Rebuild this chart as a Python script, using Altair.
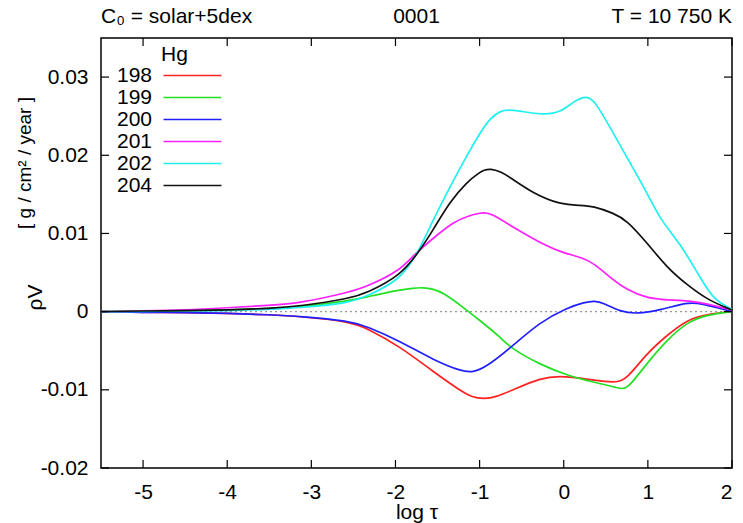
import altair as alt
import pandas as pd

# ---- data ----
isotopes = ["198", "199", "200", "201", "202", "204"]
colors = ["#ff2020", "#22e022", "#2020ff", "#ff20ff", "#20f0f0", "#111111"]

x198 = [-5.5, -5.0, -4.5, -4.0, -3.5, -3.13, -2.54, -2.34, -1.94, -1.55, -1.23, -1.1, -0.95, -0.8, -0.6, -0.28, -0.04, 0.2, 0.52, 0.64, 0.75, 0.99, 1.23, 1.47, 1.71, 2.0]
y198 = [0.0, -0.0001, -0.0001, -0.0002, -0.0004, -0.0006, -0.0013, -0.0021, -0.0045, -0.0077, -0.0101, -0.0109, -0.0112, -0.0109, -0.0100, -0.0085, -0.0082, -0.0085, -0.0090, -0.0090, -0.0086, -0.0053, -0.0030, -0.0010, -0.0003, 0.0]

x199 = [-5.5, -5.0, -4.5, -4.0, -3.5, -3.13, -2.54, -2.34, -1.94, -1.8, -1.67, -1.55, -1.43, -1.2, -1.0, -0.76, -0.64, -0.28, 0.08, 0.35, 0.55, 0.62, 0.7, 0.77, 0.99, 1.23, 1.47, 1.71, 2.0]
y199 = [0.0, 0.0001, 0.0001, 0.0002, 0.0004, 0.0006, 0.0014, 0.0019, 0.0028, 0.0030, 0.0031, 0.0029, 0.0024, 0.0006, -0.0011, -0.0032, -0.0046, -0.0068, -0.0083, -0.0090, -0.0095, -0.0097, -0.0099, -0.0097, -0.0066, -0.0036, -0.0013, -0.0004, 0.0]

x200 = [-5.5, -5.0, -4.5, -4.0, -3.5, -3.13, -2.54, -2.34, -1.94, -1.55, -1.2, -1.08, -0.95, -0.64, -0.28, 0.04, 0.25, 0.37, 0.47, 0.67, 0.87, 1.15, 1.47, 1.62, 2.0]
y200 = [0.0, -0.0001, -0.0001, -0.0002, -0.0004, -0.0006, -0.0012, -0.0019, -0.0038, -0.0062, -0.0077, -0.0077, -0.0073, -0.0047, -0.0013, 0.0005, 0.0012, 0.0014, 0.0011, 0.0000, -0.0003, 0.0002, 0.0012, 0.0011, 0.0]

x201 = [-5.5, -5.0, -4.5, -4.0, -3.5, -3.13, -2.54, -2.34, -1.94, -1.79, -1.55, -1.31, -1.1, -0.95, -0.87, -0.6, -0.28, -0.01, 0.23, 0.37, 0.59, 0.75, 0.99, 1.23, 1.5, 1.71, 2.0]
y201 = [0.0, 0.0001, 0.0002, 0.0005, 0.0008, 0.0011, 0.0025, 0.0032, 0.0053, 0.0072, 0.0094, 0.0115, 0.0124, 0.0127, 0.0126, 0.0108, 0.0088, 0.0075, 0.0069, 0.0061, 0.0040, 0.0028, 0.0017, 0.0015, 0.0014, 0.0010, 0.0002]

x202 = [-5.5, -5.0, -4.5, -4.0, -3.5, -3.13, -2.54, -2.34, -1.94, -1.71, -1.55, -1.35, -1.15, -1.0, -0.87, -0.75, -0.64, -0.24, -0.04, 0.11, 0.2, 0.28, 0.37, 0.59, 0.79, 0.99, 1.15, 1.38, 1.62, 1.78, 2.0]
y202 = [0.0, 0.0, 0.0001, 0.0001, 0.0003, 0.0005, 0.0011, 0.0020, 0.0040, 0.0080, 0.0118, 0.0160, 0.0200, 0.0228, 0.0248, 0.0257, 0.0259, 0.0251, 0.0255, 0.0268, 0.0273, 0.0275, 0.0270, 0.0228, 0.0190, 0.0152, 0.0117, 0.0088, 0.0044, 0.0015, 0.0003]

x204 = [-5.5, -5.0, -4.5, -4.0, -3.5, -3.13, -2.54, -2.34, -1.94, -1.71, -1.55, -1.35, -1.15, -1.0, -0.95, -0.87, -0.75, -0.64, -0.36, -0.04, 0.2, 0.35, 0.59, 0.75, 0.99, 1.23, 1.47, 1.71, 2.0]
y204 = [0.0, 0.0001, 0.0001, 0.0002, 0.0004, 0.0007, 0.0017, 0.0024, 0.0046, 0.0078, 0.0105, 0.0141, 0.0166, 0.0178, 0.0181, 0.0183, 0.0179, 0.0172, 0.0151, 0.0137, 0.0136, 0.0135, 0.0126, 0.0117, 0.0088, 0.0056, 0.0034, 0.0015, 0.0002]

x_ticks = [-5, -4, -3, -2, -1, 0, 1, 2]
y_ticks = [-0.02, -0.01, 0, 0.01, 0.02, 0.03]

title_left = "C₀ = solar+5dex"
title_mid = "0001"
title_right = "T = 10 750 K"
x_title = "log τ"
y_title = "ρV"
y_units = "[ g / cm² / year ]"

FONT = "Liberation Sans"
W, H = 631, 430

series = {"198": (x198, y198), "199": (x199, y199), "200": (x200, y200),
          "201": (x201, y201), "202": (x202, y202), "204": (x204, y204)}
rows = []
for iso, (xs, ys) in series.items():
    for i, (a, b) in enumerate(zip(xs, ys)):
        rows.append({"iso": iso, "order": i, "x": a, "y": b})
df = pd.DataFrame(rows)

xscale = alt.Scale(domain=[-5.5, 2], nice=False, zero=False)
yscale = alt.Scale(domain=[-0.02, 0.035], nice=False, zero=False)

lines = alt.Chart(df).mark_line(strokeWidth=1.7, interpolate="basis").encode(
    x=alt.X("x:Q", scale=xscale,
            axis=alt.Axis(values=x_ticks, title=x_title, labelExpr="toString(datum.value)",
                          labelPadding=13, titleY=50, titleBaseline="alphabetic")),
    y=alt.Y("y:Q", scale=yscale,
            axis=alt.Axis(values=y_ticks, title=y_title, labelExpr="toString(datum.value)",
                          labelPadding=13, titleAngle=270, titleX=-66, titleY=259,
                          titleAlign="center", titleBaseline="middle")),
    color=alt.Color("iso:N", scale=alt.Scale(domain=isotopes, range=colors),
                    legend=alt.Legend(title="Hg", orient="none", legendX=60, legendY=6,
                                      symbolType="M-4,0H4", symbolSize=210,
                                      symbolOffset=21,
                                      symbolStrokeWidth=1.7, labelAlign="right",
                                      labelOffset={"expr": "-51"}, labelFont=FONT, labelFontSize=21,
                                      titleFont=FONT, titleFontSize=21, titleFontWeight="normal",
                                      rowPadding=0, padding=0, titlePadding=0)),
    detail="iso:N",
    order="order:Q",
)

zero = alt.Chart(pd.DataFrame({"v": [0]})).mark_rule(
    color="#999999", strokeDash=[2, 3], strokeWidth=1.2).encode(y=alt.Y("v:Q", scale=yscale))

ydf = pd.DataFrame({"v": y_ticks})
xdf = pd.DataFrame({"v": x_ticks})
tl = alt.Chart(ydf).mark_rule(color="black", strokeWidth=1.2).encode(
    y=alt.Y("v:Q", scale=yscale), x=alt.value(0), x2=alt.value(8))
tr = alt.Chart(ydf).mark_rule(color="black", strokeWidth=1.2).encode(
    y=alt.Y("v:Q", scale=yscale), x=alt.value(W - 8), x2=alt.value(W))
tb = alt.Chart(xdf).mark_rule(color="black", strokeWidth=1.2).encode(
    x=alt.X("v:Q", scale=xscale), y=alt.value(H - 8), y2=alt.value(H))
tt = alt.Chart(xdf).mark_rule(color="black", strokeWidth=1.2).encode(
    x=alt.X("v:Q", scale=xscale), y=alt.value(0), y2=alt.value(8))

one = pd.DataFrame({"a": [0]})
def txt(s, x, y, align, size=21, angle=0):
    return alt.Chart(one).mark_text(text=s, align=align, baseline="alphabetic",
                                    font=FONT, fontSize=size, angle=angle, color="black").encode(
        x=alt.value(x), y=alt.value(y))

t1 = txt(title_left, 0, -15, "left")
t2 = txt(title_mid, W / 2, -15, "center")
t3 = txt(title_right, W, -15, "right")
t4 = alt.Chart(one).mark_text(text=y_units, align="center", baseline="middle", font=FONT,
                              fontSize=19, angle=270, color="black").encode(
    x=alt.value(-76), y=alt.value(125))

chart = alt.layer(zero, lines, tl, tr, tb, tt, t1, t2, t3, t4).properties(
    width=W, height=H, autosize="none",
    padding={"left": 101, "top": 38, "right": 11, "bottom": 55},
).configure_view(stroke="black", strokeWidth=1.5).configure_axis(
    domain=False, ticks=False, grid=False, labelFont=FONT, labelFontSize=21,
    labelColor="black", titleFont=FONT, titleFontSize=21, titleFontWeight="normal",
    titleColor="black")

chart.save("out.html", embed_options={"renderer": "svg", "actions": False})
